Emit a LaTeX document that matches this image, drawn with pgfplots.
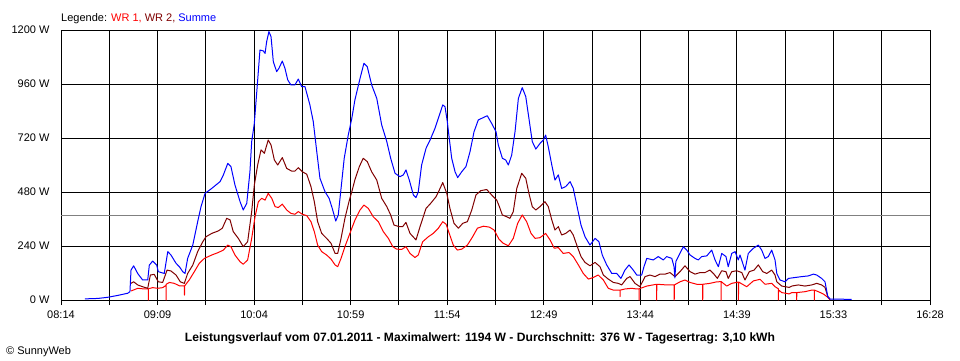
\documentclass[border=0pt]{standalone}
\usepackage{fontspec}
\setmainfont{Liberation Sans}
\usepackage{pgfplots}
\pgfplotsset{compat=1.18}
\definecolor{wrone}{RGB}{255,0,0}
\definecolor{wrtwo}{RGB}{128,0,0}
\definecolor{summe}{RGB}{0,0,255}
\definecolor{avgc}{RGB}{128,128,128}
\begin{document}
\begin{tikzpicture}
\useasboundingbox (0,0) rectangle (960pt,360pt);
\fill[white] (0,0) rectangle (960pt,360pt);
\begin{axis}[
  at={(61pt,60pt)}, anchor=south west,
  scale only axis, width=869pt, height=270pt,
  xmin=494, xmax=988, ymin=0, ymax=1200,
  axis line style={black, line width=0.9pt},
  grid=major, major grid style={black, line width=0.9pt},
  xtick={494,521.444,548.889,576.333,603.778,631.222,658.667,686.111,713.556,741,768.444,795.889,823.333,850.778,878.222,905.667,933.111,960.556,988},
  xticklabels={08:14,{},09:09,{},10:04,{},10:59,{},11:54,{},12:49,{},13:44,{},14:39,{},15:33,{},16:28},
  ytick={0,240,480,720,960,1200},
  yticklabels={0 W,240 W,480 W,720 W,960 W,1200 W},
  tick pos=left, tick align=outside, major tick length=5pt,
  tick style={black, line width=0.9pt},
  ytick style={draw=none},
  ticklabel style={font=\fontsize{11}{13}\selectfont},
  yticklabel style={xshift=-3pt},
  xticklabel style={yshift=-2.5pt},
  clip=true,
  every axis plot/.append style={line width=1pt, line join=round},
]
\addplot[avgc, line width=1pt] coordinates {(494,376) (988,376)};
% WR 1
\addplot[wrone] coordinates {
(533.8,40)(537.6,52)(541.4,49)(543.6,50)(543.6,0)(543.7,50)(546.1,55)(549.0,52)(551.8,55)(553.7,65)(553.7,0)(553.8,70)(555.6,78)(558.4,74)(561.3,63)(564.1,63)(564.2,22)(564.3,63)(566.9,89)(569.8,126)(572.6,163)(575.5,185)(579.7,200)(583.4,211)(586.3,222)(588.8,244)(590.6,237)(592.9,200)(595.8,170)(597.6,159)(600.1,178)(602.4,274)(604.3,370)(606.2,437)(608.1,452)(610.0,444)(611.8,474)(613.8,452)(615.7,415)(617.5,411)(619.8,426)(622.3,400)(624.7,385)(627.0,381)(628.9,393)(631.2,381)(633.7,375)(636.1,348)(638.0,304)(639.9,244)(642.2,215)(645.0,200)(647.5,182)(649.8,156)(651.3,148)(653.2,185)(655.4,237)(657.7,285)(660.2,337)(661.1,355)(664.0,400)(666.2,422)(668.7,407)(671.5,370)(674.4,348)(677.2,304)(680.1,274)(682.6,237)(684.8,226)(687.7,225)(690.1,237)(692.4,207)(695.2,189)(697.1,200)(699.6,259)(702.8,281)(705.6,296)(708.5,319)(711.0,348)(712.9,337)(714.7,296)(717.0,244)(719.3,222)(721.8,226)(725.0,244)(728.0,281)(730.7,319)(734.1,328)(737.5,324)(740.2,311)(743.0,270)(745.4,252)(748.3,241)(751.1,274)(753.6,341)(756.2,378)(758.7,348)(761.2,296)(763.5,274)(766.3,277)(769.5,296)(772.0,267)(774.4,230)(776.7,233)(779.5,207)(782.8,211)(785.2,193)(788.1,156)(790.9,118)(793.8,93)(796.6,100)(799.4,111)(802.3,89)(805.1,52)(808.0,44)(810.8,44)(811.8,44)(811.8,15)(811.9,44)(814.6,49)(818.4,52)(821.3,49)(822.6,50)(822.6,0)(822.7,50)(827.0,62)(832.6,70)(832.6,0)(832.7,70)(838.3,67)(842.6,67)(842.6,0)(842.7,67)(845.9,81)(848.7,89)(851.6,78)(855.4,70)(858.8,70)(858.8,0)(858.9,70)(862.9,74)(866.3,80)(869.2,82)(869.2,0)(869.3,82)(872.4,62)(875.3,74)(879.1,80)(879.1,0)(879.2,80)(883.8,59)(887.6,85)(891.4,92)(894.2,70)(898.0,74)(899.9,59)(901.8,50)(901.8,0)(901.9,45)(903.7,33)(908.0,27)(909.4,33)(912.2,33)(912.2,0)(912.3,33)(916.9,37)(920.8,44)(922.2,44)(922.2,0)(922.3,44)(924.5,37)(927.3,27)(929.9,12)(931.2,0)
};
% WR 2
\addplot[wrtwo] coordinates {
(533.8,74)(535.3,81)(537.6,67)(540.4,59)(543.3,52)(544.8,111)(547.0,114)(549.3,81)(551.8,78)(554.3,133)(556.5,129)(559.4,111)(561.8,81)(564.1,74)(566.0,118)(568.9,155)(571.7,215)(574.6,259)(576.4,281)(579.7,296)(583.4,307)(585.7,319)(588.2,363)(590.1,356)(591.9,304)(594.8,274)(597.6,237)(600.1,259)(602.4,393)(603.9,511)(605.8,600)(607.7,667)(609.6,652)(611.8,711)(613.4,689)(615.3,622)(617.2,600)(619.8,633)(622.3,585)(625.1,573)(627.0,573)(628.9,588)(631.2,570)(633.7,559)(636.1,504)(638.0,437)(639.9,348)(642.2,296)(645.0,274)(647.5,252)(649.8,207)(651.3,207)(653.2,274)(655.4,363)(657.7,437)(659.3,481)(661.1,535)(663.6,593)(665.8,630)(668.1,615)(670.6,570)(673.5,533)(676.3,452)(679.2,415)(681.4,378)(683.3,333)(686.3,326)(688.2,326)(690.1,345)(692.4,296)(695.8,267)(698.1,326)(701.5,407)(704.2,430)(707.2,459)(709.5,496)(711.0,522)(713.3,474)(715.1,407)(717.4,341)(719.9,319)(722.4,341)(725.0,348)(727.5,400)(729.9,467)(732.6,486)(736.0,491)(738.8,467)(741.7,444)(743.2,415)(744.9,378)(747.4,370)(749.2,363)(751.1,393)(753.1,496)(755.9,563)(758.2,541)(760.0,474)(761.9,415)(763.9,400)(766.3,415)(769.1,437)(771.0,415)(773.0,356)(774.8,311)(776.7,326)(778.6,289)(780.9,296)(783.4,311)(785.2,289)(787.2,244)(789.6,193)(791.9,167)(794.7,152)(797.6,167)(800.4,148)(802.3,111)(805.1,93)(808.0,78)(810.8,74)(812.7,67)(815.6,96)(817.5,104)(820.3,74)(823.1,59)(826.0,104)(828.8,111)(831.7,104)(834.5,115)(837.4,115)(840.2,122)(843.0,104)(845.9,126)(848.7,152)(851.6,126)(854.4,115)(857.3,122)(860.1,122)(862.9,133)(865.2,115)(867.1,96)(869.6,130)(872.0,126)(873.3,96)(875.3,126)(878.1,130)(881.0,122)(882.8,89)(885.3,126)(888.0,133)(890.4,156)(892.9,126)(895.2,118)(898.0,133)(899.9,111)(900.9,81)(903.7,62)(908.0,56)(909.4,62)(913.1,67)(916.9,62)(920.8,67)(923.6,74)(926.4,67)(928.3,56)(929.9,15)(931.2,3)
};
% Summe
\addplot[summe] coordinates {
(507.6,5)(515,7)(520.5,12)(526,20)(531.9,30)(533.2,37)(533.8,133)(535.3,152)(537.6,118)(540.4,89)(543.3,89)(544.2,155)(546.1,173)(548.4,155)(549.3,126)(552.7,118)(554.7,215)(556.5,200)(559.4,163)(561.3,148)(563.2,126)(564.5,118)(566.0,185)(568.9,244)(571.7,348)(573.6,415)(575.9,474)(579.7,496)(584.4,526)(586.3,556)(588.8,607)(590.6,593)(592.9,511)(595.8,437)(597.6,400)(599.6,430)(601.4,570)(602.4,704)(603.9,785)(605.3,926)(607.1,1111)(609.0,1107)(610.0,1096)(610.9,1148)(612.2,1193)(613.4,1170)(614.7,1059)(616.6,1015)(617.9,1030)(619.8,1062)(621.3,1030)(622.9,978)(624.7,956)(627.0,956)(628.9,982)(630.8,948)(632.7,948)(635.5,867)(637.4,793)(639.4,659)(641.2,541)(644.1,481)(646.4,452)(648.2,407)(650.2,351)(651.6,378)(653.2,496)(655.0,630)(657.3,733)(659.3,807)(661.1,890)(664.0,985)(666.2,1052)(668.1,1037)(670.6,956)(673.5,896)(676.3,778)(679.2,704)(681.4,630)(683.9,563)(686.7,548)(688.6,556)(690.1,578)(692.0,533)(694.3,467)(695.8,455)(697.1,481)(699.0,600)(701.5,674)(703.8,711)(706.6,763)(709.1,822)(711.0,867)(712.3,859)(713.6,793)(714.7,719)(716.1,630)(718.0,570)(719.5,544)(721.8,570)(724.2,593)(726.5,659)(728.8,748)(731.2,800)(734.1,811)(736.3,819)(738.8,785)(741.3,748)(742.6,689)(744.9,630)(746.8,622)(748.3,600)(750.2,644)(752.1,748)(754.0,896)(756.2,944)(758.2,904)(760.0,807)(761.9,704)(763.9,671)(766.3,696)(768.2,711)(769.5,733)(771.0,681)(773.0,600)(774.8,533)(776.7,556)(778.6,496)(780.9,504)(783.4,526)(785.2,496)(787.2,422)(789.6,333)(791.9,281)(794.7,244)(797.6,274)(799.8,259)(801.7,200)(804.2,156)(807.1,118)(809.9,118)(812.3,96)(814.6,133)(816.9,156)(819.3,133)(821.3,111)(824.1,111)(825.4,148)(827.0,185)(830.7,178)(833.5,193)(836.4,178)(838.3,193)(841.2,185)(842.5,148)(843.0,98)(843.5,170)(844.9,193)(847.8,237)(849.7,222)(851.6,200)(854.4,185)(856.3,178)(858.2,193)(861.1,196)(863.9,222)(865.8,178)(867.7,148)(869.6,207)(872.0,193)(873.3,148)(875.3,207)(877.2,215)(879.0,178)(880.0,200)(882.8,133)(884.7,207)(887.6,230)(890.4,244)(892.3,222)(894.2,185)(896.1,193)(898.0,222)(899.9,178)(900.9,118)(902.7,89)(905.6,81)(907.5,96)(911.3,100)(915.1,104)(918.8,107)(921.7,115)(923.6,111)(926.4,96)(928.3,81)(929.9,15)(931.2,4)(943.5,3)
};
\end{axis}
\node[anchor=base west, inner sep=0pt, font=\fontsize{11}{13}\selectfont] at (61pt,339pt)
  {Legende: \textcolor{wrone}{WR 1,} \textcolor{wrtwo}{WR 2,} \textcolor{summe}{Summe}};
\node[anchor=base, inner sep=0pt, font=\bfseries\fontsize{12.1}{14}\selectfont] at (480pt,18.5pt)
  {Leistungsverlauf vom 07.01.2011 - Maximalwert: 1194 W - Durchschnitt: 376 W - Tagesertrag: 3,10 kWh};
\node[anchor=base west, inner sep=0pt, font=\fontsize{11}{13}\selectfont] at (6pt,6pt)
  {\textcopyright\ SunnyWeb};
\end{tikzpicture}
\end{document}
